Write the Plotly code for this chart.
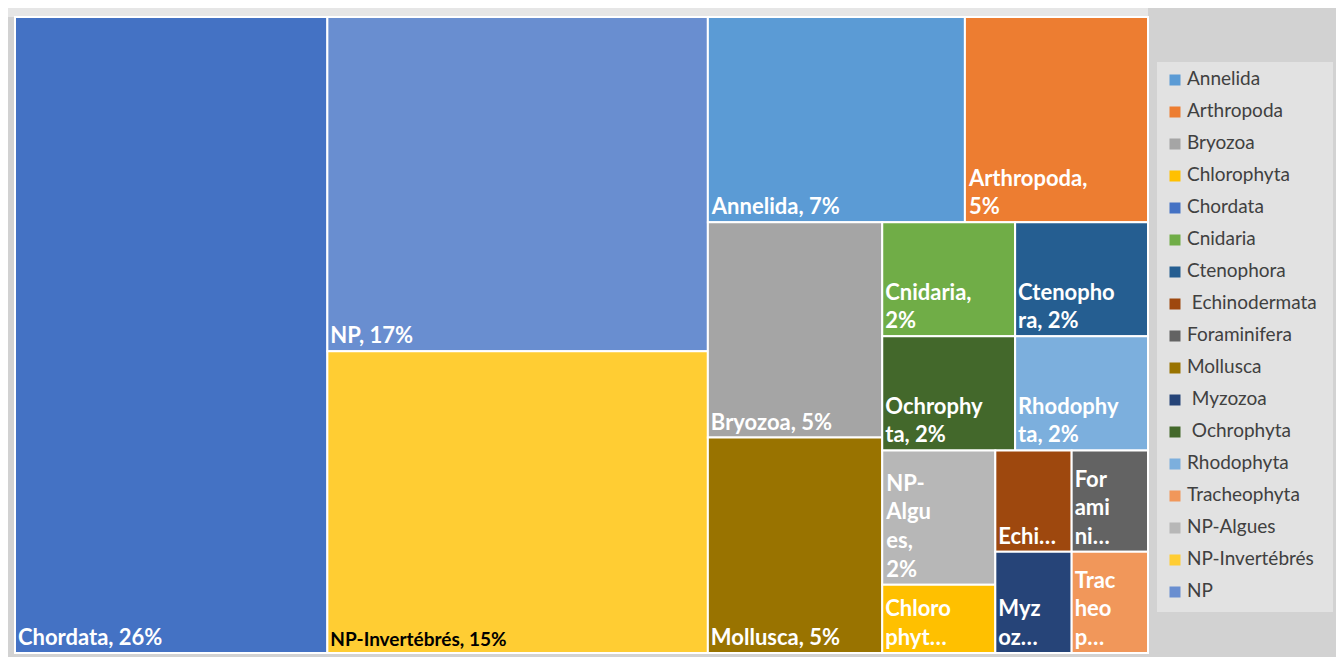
import plotly.graph_objects as go

# ---------------- data ----------------
categories = ["Chordata", "NP", "NP-Invertébrés", "Annelida", "Arthropoda", "Bryozoa",
              "Mollusca", "Cnidaria", "Ctenophora", "Ochrophyta", "Rhodophyta", "NP-Algues",
              "Chlorophyta", "Echinodermata", "Foraminifera", "Myzozoa", "Tracheophyta"]
share = [27.5, 17.6, 15.9, 7.3, 5.2, 5.2,
         5.2, 2.1, 2.1, 2.1, 2.1, 2.1,
         1.07, 1.07, 1.07, 1.07, 1.07]
tile_labels = ["Chordata, 26%", "NP, 17%",
               "<span style='font-size:19px;color:#000000'>NP-Invertébrés, 15%</span>",
               "Annelida, 7%", "Arthropoda,<br>5%", "Bryozoa, 5%", "Mollusca, 5%",
               "Cnidaria,<br>2%", "Ctenopho<br>ra, 2%", "Ochrophy<br>ta, 2%", "Rhodophy<br>ta, 2%",
               "NP-<br>Algu<br>es,<br>2%", "Chloro<br>phyt…", "Echi…", "For<br>ami<br>ni…",
               "Myz<br>oz…", "Trac<br>heo<br>p…"]
legend_names = ["Annelida", "Arthropoda", "Bryozoa", "Chlorophyta", "Chordata", "Cnidaria",
                "Ctenophora", "\u00a0Echinodermata", "Foraminifera", "Mollusca", "\u00a0Myzozoa",
                "\u00a0Ochrophyta", "Rhodophyta", "Tracheophyta", "NP-Algues", "NP-Invertébrés", "NP"]

palette = {
    "Annelida": "#5B9BD5", "Arthropoda": "#ED7D31", "Bryozoa": "#A5A5A5",
    "Chlorophyta": "#FFC000", "Chordata": "#4472C4", "Cnidaria": "#70AD47",
    "Ctenophora": "#255E91", "Echinodermata": "#9E480E", "Foraminifera": "#636363",
    "Mollusca": "#997300", "Myzozoa": "#264478", "Ochrophyta": "#43682B",
    "Rhodophyta": "#7CAFDD", "Tracheophyta": "#F1975A", "NP-Algues": "#B7B7B7",
    "NP-Invertébrés": "#FFCD33", "NP": "#698ED0",
}

# figure size (page has an 8px body margin)
W, H = 1336, 649
font_family = "Lato, 'Open Sans', sans-serif"

tile_colors = [palette[c] for c in categories]
legend_colors = [palette[n.strip("\u00a0 ")] for n in legend_names]
legend_pos = list(range(len(legend_names)))

fig = go.Figure()

fig.add_trace(go.Treemap(
    labels=categories,
    parents=[""] * len(categories),
    values=share,
    text=tile_labels,
    texttemplate="<b>%{text}</b>",
    textposition="bottom left",
    textfont=dict(family=font_family, color="#FFFFFF", size=22),
    marker=dict(colors=tile_colors, line=dict(color="#FFFFFF", width=2),
                pad=dict(t=0, l=0, r=0, b=0)),
    tiling=dict(packing="squarify", squarifyratio=1, pad=0),
    pathbar=dict(visible=False),
    sort=False,
    hovertemplate="%{label}<extra></extra>",
    domain=dict(x=[7 / W, 1140 / W], y=[(H - 645) / H, (H - 9) / H]),
))

# legend drawn as a small scatter in its own (hidden) axes: swatches + names
fig.add_trace(go.Scatter(
    x=[18] * len(legend_names), y=legend_pos,
    mode="markers",
    marker=dict(symbol="square", size=11, color=legend_colors, line=dict(width=0)),
    hoverinfo="skip", showlegend=False, cliponaxis=False,
))
fig.add_trace(go.Scatter(
    x=[30] * len(legend_names), y=legend_pos,
    mode="text",
    text=legend_names, textposition="middle right",
    textfont=dict(family=font_family, size=19, color="#404040"),
    hoverinfo="skip", showlegend=False, cliponaxis=False,
))

fig.update_layout(
    width=W, height=H,
    margin=dict(l=0, r=0, t=0, b=0),
    paper_bgcolor="#D2D2D2",
    plot_bgcolor="#E2E2E2",
    showlegend=False,
    xaxis=dict(domain=[1149 / W, 1325 / W], range=[0, 176], visible=False, fixedrange=True),
    yaxis=dict(domain=[(H - 604) / H, (H - 54) / H], range=[16.625, -0.5625],
               visible=False, fixedrange=True),
    shapes=[dict(type="rect", xref="paper", yref="paper",
                 x0=0, x1=1140 / W, y0=(H - 9) / H, y1=1,
                 fillcolor="#E6E6E6", line=dict(width=0), layer="below")],
)

fig.write_html("out.html")
